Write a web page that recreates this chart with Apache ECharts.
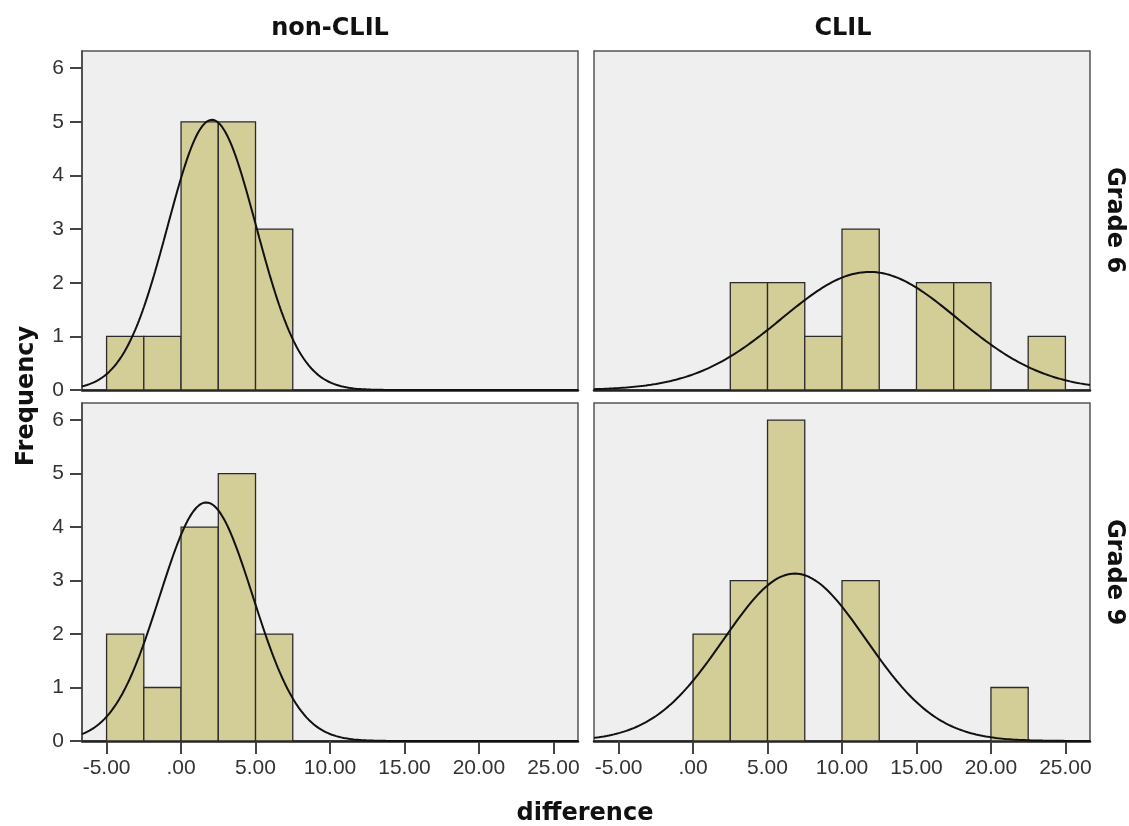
<!DOCTYPE html>
<html>
<head>
<meta charset="utf-8">
<script src="https://cdn.jsdelivr.net/npm/echarts@6/dist/echarts.min.js"></script>
<style>
html,body{margin:0;padding:0;background:#fff;}
#chart{width:1129px;height:826px;}
</style>
</head>
<body>
<div id="chart"></div>
<script>
// ---- data ----
const colTitles = ['non-CLIL', 'CLIL'];
const rowTitles = ['Grade 6', 'Grade 9'];
const binWidth = 2.5;
const binStarts = [-5, -2.5, 0, 2.5, 5, 7.5, 10, 12.5, 15, 17.5, 20, 22.5];
const nonClilGrade6 = [1, 1, 5, 5, 3, 0, 0, 0, 0, 0, 0, 0];
const clilGrade6    = [0, 0, 0, 2, 2, 1, 3, 0, 2, 2, 0, 1];
const nonClilGrade9 = [2, 1, 4, 5, 2, 0, 0, 0, 0, 0, 0, 0];
const clilGrade9    = [0, 0, 2, 3, 6, 0, 3, 0, 0, 0, 1, 0];
// fitted normal curve parameters (mean, sd, N) per panel
const curveMeans = [2.07, 11.85, 1.69, 6.83];
const curveSDs   = [2.97, 5.89, 3.13, 4.78];
const curveNs    = [15, 13, 14, 15];
const xTickValues = [-5, 0, 5, 10, 15, 20, 25];
const yTickValues = [0, 1, 2, 3, 4, 5, 6];
const xRange = [-6.65, 26.65];
const yMax = 6.32;

// ---- layout ----
const panels = [
  {counts: nonClilGrade6, left: 82, top: 51, height: 339, col: 0, row: 0},
  {counts: clilGrade6,    left: 594, top: 51, height: 339, col: 1, row: 0},
  {counts: nonClilGrade9, left: 82, top: 403, height: 338, col: 0, row: 1},
  {counts: clilGrade9,    left: 594, top: 403, height: 338, col: 1, row: 1}
];
const panelWidth = 496;
const tickFont = '"Liberation Sans", Arial, sans-serif';
const titleFont = '"DejaVu Sans", sans-serif';

function normalCurve(mean, sd, n) {
  const pts = [];
  const steps = 400;
  for (let i = 0; i <= steps; i++) {
    const x = xRange[0] + (xRange[1] - xRange[0]) * i / steps;
    const y = n * binWidth / (sd * Math.sqrt(2 * Math.PI)) * Math.exp(-((x - mean) ** 2) / (2 * sd * sd));
    pts.push([x, y]);
  }
  return pts;
}

const grids = [], xAxes = [], yAxes = [], series = [];
panels.forEach((p, i) => {
  grids.push({
    left: p.left, top: p.top, width: panelWidth, height: p.height,
    show: true, backgroundColor: '#efefef', borderColor: '#555', borderWidth: 1.5
  });
  const isBottom = p.row === 1, isLeft = p.col === 0;
  xAxes.push({
    type: 'value', gridIndex: i, min: xRange[0], max: xRange[1],
    splitLine: {show: false},
    axisLine: {show: true, onZero: false, lineStyle: {color: '#222', width: 2.5}},
    axisTick: {show: isBottom, length: 13, lineStyle: {color: '#444', width: 2}, customValues: xTickValues},
    axisLabel: {
      show: isBottom, margin: 17, color: '#333', fontSize: 21, fontFamily: tickFont,
      customValues: xTickValues,
      formatter: v => (Math.abs(v) < 1e-9 ? '.00' : v.toFixed(2))
    }
  });
  yAxes.push({
    type: 'value', gridIndex: i, min: 0, max: yMax,
    splitLine: {show: false},
    axisLine: {show: isLeft, onZero: false, lineStyle: {color: '#444', width: 1.5}},
    axisTick: {show: isLeft, length: 12, lineStyle: {color: '#444', width: 2}, customValues: yTickValues},
    axisLabel: {show: isLeft, margin: 18, color: '#333', fontSize: 21, fontFamily: tickFont, customValues: yTickValues}
  });
  const barData = [];
  p.counts.forEach((c, k) => { if (c > 0) barData.push([binStarts[k], binStarts[k] + binWidth, c]); });
  series.push({
    type: 'custom', xAxisIndex: i, yAxisIndex: i, data: barData, z: 2,
    renderItem: (params, api) => {
      const a = api.coord([api.value(0), api.value(2)]);
      const b = api.coord([api.value(1), 0]);
      return {type: 'rect', shape: {x: a[0], y: a[1], width: b[0] - a[0], height: b[1] - a[1]},
        style: {fill: '#d3cd97', stroke: '#2b2b2b', lineWidth: 1.3}};
    }
  });
  series.push({
    type: 'line', xAxisIndex: i, yAxisIndex: i, z: 3, showSymbol: false, symbol: 'none',
    data: normalCurve(curveMeans[i], curveSDs[i], curveNs[i]),
    lineStyle: {color: '#111', width: 2}, clip: true, silent: true
  });
});

const boldText = (text, x, y, rot) => ({
  type: 'text', x: x, y: y, rotation: rot || 0,
  style: {text: text, font: 'bold 24px ' + titleFont, fill: '#111', align: 'center', verticalAlign: 'middle'}
});

const chart = echarts.init(document.getElementById('chart'), null, {renderer: 'canvas'});
chart.setOption({
  animation: false,
  backgroundColor: '#ffffff',
  grid: grids, xAxis: xAxes, yAxis: yAxes, series: series,
  graphic: [
    boldText(colTitles[0], 330, 29),
    boldText(colTitles[1], 843, 29),
    boldText(rowTitles[0], 1114, 220, -Math.PI / 2),
    boldText(rowTitles[1], 1114, 572, -Math.PI / 2),
    boldText('Frequency', 27, 396, Math.PI / 2),
    boldText('difference', 585, 814)
  ]
});
</script>
</body>
</html>
